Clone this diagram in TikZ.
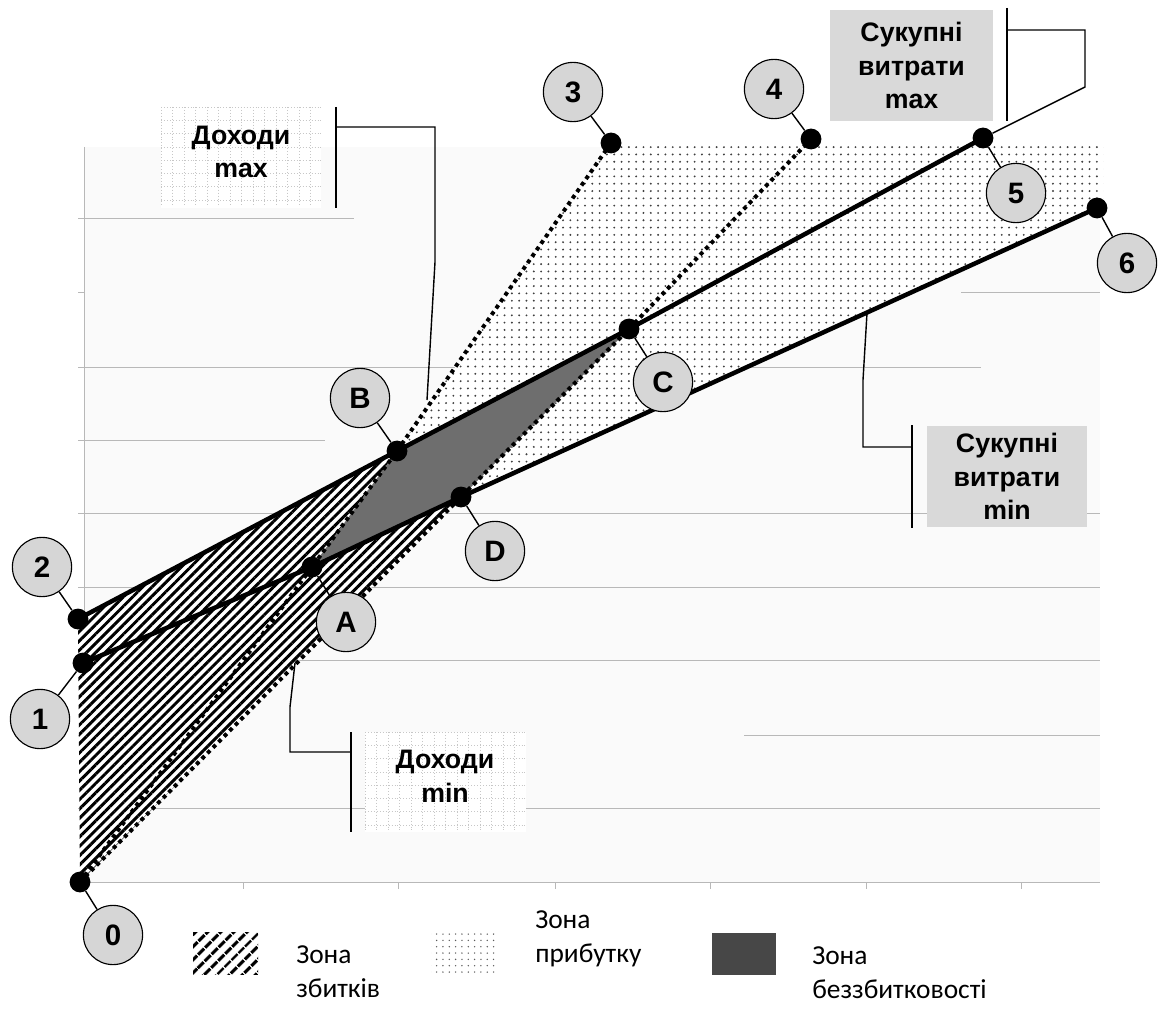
\documentclass[tikz,border=0pt]{standalone}
\usepackage{fontspec}
\setmainfont{Liberation Sans}
\newfontfamily\legendfont{Carlito}
\usetikzlibrary{patterns.meta}

\tikzset{
  dotnode/.style={circle,fill=black,inner sep=0pt,minimum size=0.52cm},
  tag/.style={circle,draw=black,line width=0.8pt,fill=black!16,inner sep=0pt,minimum size=1.48cm,font=\fontsize{21}{21}\selectfont\bfseries},
  costline/.style={line width=3.2pt,line join=round},
  revline/.style={line width=2.8pt,dash pattern=on 2.8pt off 2.8pt},
  gridln/.style={black!28,line width=0.7pt},
  papergrid/.style={black!22,line width=0.5pt,dash pattern=on 0.7pt off 1.4pt},
  leader/.style={line width=1pt},
  bar/.style={line width=1.3pt},
  boxtext/.style={align=center,inner sep=0pt,font=\fontsize{19}{24}\selectfont\bfseries},
  legendtxt/.style={anchor=west,align=left,inner sep=0pt,font=\legendfont\fontsize{19.5}{24}\selectfont},
  losszone/.style={pattern={Lines[angle=45,distance=4.7pt,line width=2.1pt]}},
  profitzone/.style={pattern={Dots[distance=5.2pt,radius=0.75pt]},pattern color=black!75}
}

\newcommand{\gridpaper}[2]{%
  \foreach \i in {0,...,13} \draw[papergrid] ({#1+\i*11.5},#2) -- ({#1+\i*11.5},{#2+100});
  \foreach \j in {0,...,7} \draw[papergrid] (#1,{#2+\j*13.3}) -- ({#1+160},{#2+\j*13.3});
}

\begin{document}
\begin{tikzpicture}[x=0.025cm,y=-0.025cm]
\useasboundingbox (0,0) rectangle (1161,1010);

% plot area
\fill[black!2] (84,147) rectangle (1100,882);
\foreach \y/\xa/\xb in {218/84/354, 292/961/1100, 367/84/981, 440/84/325, 513/84/1100, 587/84/1100, 660/84/1100, 735/744/1100, 808/84/1100}
  \draw[gridln] (\xa,\y) -- (\xb,\y);
\foreach \y in {218,292,367,440,513,587,660,735,808} \draw[gridln] (78,\y) -- (84,\y);
\draw[gridln] (84,147) -- (84,882) -- (1100,882);
\foreach \x in {243,398,555,710,866,1021} \draw[gridln] (\x,882) -- (\x,889);

% points
\foreach \n/\x/\y in {0/80/882, 1/83/663, 2/78/619, 3/611/143, 4/811/139, 5/983/138, 6/1097/208, A/312/567, B/397/451, C/629/329, D/461/497}
  \coordinate (P\n) at (\x,\y);

% zones
\fill[losszone,preaction={fill=white}] (P0) -- (P2) -- (PB) -- (PA) -- (PD) -- cycle;
\fill[profitzone,preaction={fill=white}] (PB) -- (P3) -- (1103,141) -- (1103,200) -- (P6) -- (PD) -- (PC) -- cycle;
\fill[black!57] (PA) -- (PB) -- (PC) -- (PD) -- cycle;

% cost and revenue lines
\draw[costline] (P2) -- (PB) -- (PC) -- (P5);
\draw[costline] (P1) -- (PA) -- (PD) -- (P6);
\draw[revline] (P0) -- (PA) -- (PB) -- (P3);
\draw[revline] (P0) -- (PD) -- (PC) -- (P4);

\foreach \n in {0,1,2,3,4,5,6,A,B,C,D}
  \node[dotnode] (d\n) at (P\n) {};

% tags
\foreach \n/\x/\y in {0/113/935, 1/40/719, 2/42/567, 3/573/92, 4/774/89, 5/1016/193, 6/1127/263, A/346/622, B/360/398, C/663/382, D/495/551}{
  \node[tag] (t\n) at (\x,\y) {\n};
  \draw[leader] (t\n) -- (d\n);
}

% callouts
\fill[white] (161,107) rectangle (321,208);
\gridpaper{161}{107}
\node[boxtext] (revmax) at (241,152) {Доходи\\max};
\draw[bar] (336,107) -- (336,208);
\coordinate (rmxend) at (427,400);
\draw[leader] (336,127) -- (435,127) -- (435,262) -- (rmxend);

\fill[white] (365,732) rectangle (526,832);
\gridpaper{365}{732}
\node[boxtext] (revmin) at (445,776) {Доходи\\min};
\draw[bar] (351,732) -- (351,832);
\coordinate (rmnend) at (295,663);
\draw[leader] (351,752) -- (290,752) -- (290,707) -- (rmnend);

\node[boxtext,fill=black!15,minimum width=4.075cm,minimum height=2.775cm] (costmax) at (911.5,65.5) {Сукупні\\витрати\\max};
\draw[bar] (1007,8) -- (1007,121);
\draw[leader] (1007,30) -- (1085,30) -- (1085,87) -- (d5);

\node[boxtext,fill=black!15,minimum width=4cm,minimum height=2.525cm] (costmin) at (1007,476.5) {Сукупні\\витрати\\min};
\draw[bar] (912,425) -- (912,528);
\coordinate (cmnend) at (867,313);
\draw[leader] (912,447) -- (863,447) -- (863,380) -- (cmnend);

% legend
\fill[pattern={Lines[angle=45,distance=6.5pt,line width=2.5pt]}] (193,932) rectangle (258,974);
\fill[pattern={Dots[distance=4.5pt,radius=0.55pt]},pattern color=black!65] (431,932) rectangle (496,974);
\fill[black!72] (712,933) rectangle (776,975);
\node[legendtxt] (lgloss) at (296,972) {Зона\\збитків};
\node[legendtxt] (lgprofit) at (535,939) {Зона\\прибутку};
\node[legendtxt] (lgeven) at (812,973) {Зона\\беззбитковості};
\end{tikzpicture}
\end{document}
